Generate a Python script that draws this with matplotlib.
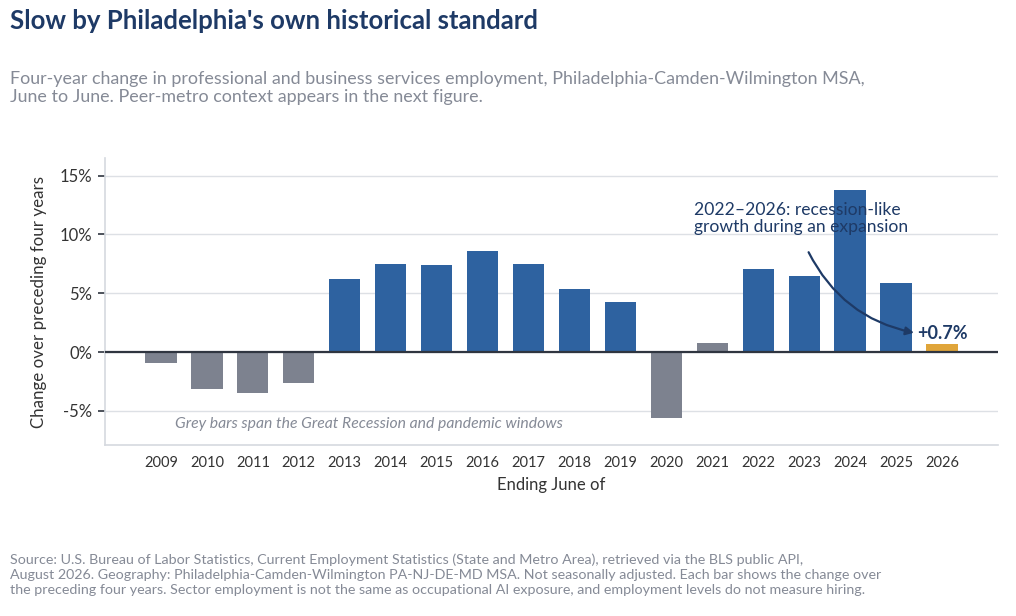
"""
Four-year change in professional and business services employment, Philadelphia MSA
"""
import numpy as np
import matplotlib
matplotlib.use("Agg")
import matplotlib.pyplot as plt
from matplotlib import rc

rc("font", family=["Lato", "DejaVu Sans"], size=11)

years = [2009, 2010, 2011, 2012, 2013, 2014, 2015, 2016, 2017,
         2018, 2019, 2020, 2021, 2022, 2023, 2024, 2025, 2026]
change = [-0.9, -3.1, -3.5, -2.6, 6.2, 7.5, 7.4, 8.6, 7.5,
          5.4, 4.3, -5.6, 0.75, 7.1, 6.5, 13.8, 5.9, 0.7]
grey_years = [2009, 2010, 2011, 2012, 2020, 2021]
yticks = [-5, 0, 5, 10, 15]

BLUE = "#2E62A0"
GREY = "#7D828F"
GOLD = "#E0A53A"
NAVY = "#1E3A66"
TXT_GREY = "#858A96"

colors = []
for y in years:
    if y == 2026:
        colors.append(GOLD)
    elif y in grey_years:
        colors.append(GREY)
    else:
        colors.append(BLUE)

fig = plt.figure(figsize=(10.16, 6.16), dpi=100)
ax = fig.add_axes([0.1033, 0.2776, 0.879, 0.4659])

x = np.arange(len(years))
ax.bar(x, change, width=0.68, color=colors, zorder=2)
ax.axhline(0, color="#2F3540", linewidth=1.6, zorder=3)

ax.set_xlim(-1.22, len(years) - 1 + 1.22)
ax.set_ylim(-7.9, 16.5)
ax.set_xticks(x)
ax.set_xticklabels([str(y) for y in years], fontsize=10.5, color="#333333")
ax.set_yticks(yticks)
ax.set_yticklabels([f"{t}%" for t in yticks], fontsize=12, color="#333333")
ax.tick_params(axis="x", length=0, pad=8)
ax.tick_params(axis="y", length=5, width=1.2, color="#2F3540", pad=4)
ax.grid(axis="y", color="#DDE0E5", linewidth=1, zorder=0)
ax.set_axisbelow(True)
for s in ["top", "right"]:
    ax.spines[s].set_visible(False)
for s in ["left", "bottom"]:
    ax.spines[s].set_color("#D5D9DF")
    ax.spines[s].set_linewidth(1.2)

ax.set_xlabel("Ending June of", fontsize=12, color="#333333", labelpad=5)
ax.set_ylabel("Change over preceding four years", fontsize=12.2,
              color="#333333", labelpad=9)

ax.text(0.3, -6.1, "Grey bars span the Great Recession and pandemic windows",
        fontsize=11.3, style="italic", color=TXT_GREY, va="center", ha="left",
        zorder=4)

ax.text(11.61, 12.8, "2022\u20132026: recession-like\ngrowth during an expansion",
        fontsize=12.6, color=NAVY, va="top", ha="left", linespacing=1.1,
        zorder=5)
ax.annotate("", xy=(16.45, 1.6), xytext=(14.07, 8.7),
            arrowprops=dict(arrowstyle="-|>", color=NAVY, lw=1.6,
                            mutation_scale=12,
                            connectionstyle="arc3,rad=0.25"),
            zorder=5)
ax.text(16.45, 1.6, "+0.7%", fontsize=13, fontweight="bold", color=NAVY,
        va="center", ha="left", zorder=5)

fig.text(0.0098, 0.966, "Slow by Philadelphia's own historical standard",
         fontsize=18.5, fontweight="bold", color="#1E3A66",
         va="center", ha="left")
fig.text(0.0098, 0.857,
         "Four-year change in professional and business services employment, "
         "Philadelphia-Camden-Wilmington MSA,\n"
         "June to June. Peer-metro context appears in the next figure.",
         fontsize=12.9, color=TXT_GREY, va="center", ha="left", linespacing=1.2)
fig.text(0.0098, 0.067,
         "Source: U.S. Bureau of Labor Statistics, Current Employment Statistics "
         "(State and Metro Area), retrieved via the BLS public API,\n"
         "August 2026. Geography: Philadelphia-Camden-Wilmington PA-NJ-DE-MD MSA. "
         "Not seasonally adjusted. Each bar shows the change over\n"
         "the preceding four years. Sector employment is not the same as "
         "occupational AI exposure, and employment levels do not measure hiring.",
         fontsize=10.3, color=TXT_GREY, va="center", ha="left", linespacing=1.27)

fig.savefig("out.png", dpi=100)
